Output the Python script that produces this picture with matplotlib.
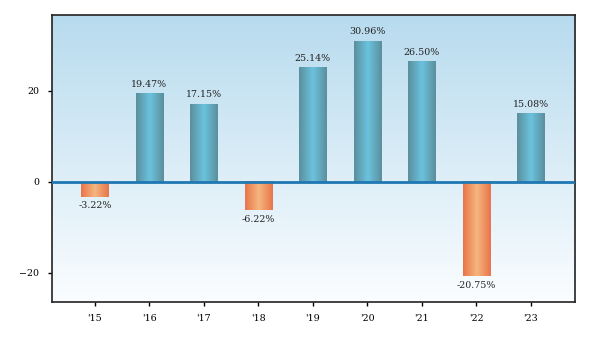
import numpy as np
import matplotlib
matplotlib.use('Agg')
import matplotlib.pyplot as plt
from matplotlib.colors import LinearSegmentedColormap

years = ["'15", "'16", "'17", "'18", "'19", "'20", "'21", "'22", "'23"]
returns = [-3.22, 19.47, 17.15, -6.22, 25.14, 30.96, 26.50, -20.75, 15.08]

plt.rcParams.update({
    'font.family': 'DejaVu Serif',
    'font.size': 7,
})

pos_cmap = LinearSegmentedColormap.from_list('pos', ['#5b8e9c', '#6bc3df', '#5b8e9c'])
neg_cmap = LinearSegmentedColormap.from_list('neg', ['#e8744a', '#f6b57f', '#e8744a'])
bg_cmap = LinearSegmentedColormap.from_list('bg', ['#fbfdff', '#b7dbee'])

fig, ax = plt.subplots(figsize=(5.89, 3.42), dpi=100)
fig.subplots_adjust(left=0.088, right=0.976, top=0.956, bottom=0.117)

x = np.arange(len(years))
bars = ax.bar(x, returns, width=0.5, color='none', edgecolor='none', zorder=2)

grad = np.linspace(0, 1, 256).reshape(1, -1)
for b, v in zip(bars, returns):
    x0, w = b.get_x(), b.get_width()
    y0, h = b.get_y(), b.get_height()
    cmap = pos_cmap if v >= 0 else neg_cmap
    ax.imshow(grad, cmap=cmap, aspect='auto', extent=[x0, x0 + w, y0, y0 + h],
              zorder=2, interpolation='bicubic')
    if v >= 0:
        ax.annotate(f'{v:.2f}%', (x0 + w / 2, v), xytext=(0, 3.5), textcoords='offset points',
                    ha='center', va='bottom', fontsize=6.8, color='#222222')
    else:
        ax.annotate(f'{v:.2f}%', (x0 + w / 2, v), xytext=(0, -3.5), textcoords='offset points',
                    ha='center', va='top', fontsize=6.8, color='#222222')

bg = np.linspace(0, 1, 256).reshape(-1, 1)
ax.imshow(bg, cmap=bg_cmap, aspect='auto', extent=[0, 1, 0, 1], origin='lower',
          transform=ax.transAxes, zorder=0)

ax.axhline(0, color='#1f77b4', linewidth=2, zorder=3)

ax.set_xlim(-0.79, 8.81)
ax.set_ylim(-26.4, 36.7)
ax.set_xticks(x)
ax.set_xticklabels(years)
ax.set_yticks([-20, 0, 20])
ax.set_yticklabels(['\u221220', '0', '20'])
ax.tick_params(axis='both', length=3, width=1, labelsize=6.8, pad=6)
for s in ax.spines.values():
    s.set_linewidth(1.2)
    s.set_color('#222222')

plt.savefig('out.png', dpi=100)
